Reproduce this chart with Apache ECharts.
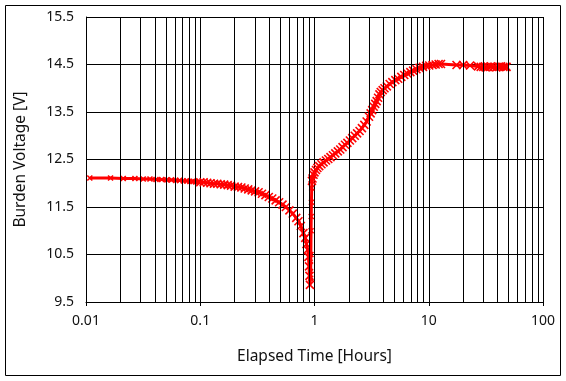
<!DOCTYPE html>
<html>
<head>
<meta charset="utf-8">
<script src="https://cdn.jsdelivr.net/npm/echarts@6/dist/echarts.min.js"></script>
<style>
html,body{margin:0;padding:0;background:#fff;}
#chart{width:566px;height:381px;}
</style>
</head>
<body>
<div id="chart"></div>
<script>
// Elapsed time [hours]
const timeHours = [
  0.0108,0.0164,0.0212,0.0268,0.0317,0.0363,0.041,0.046,0.051,0.056,0.061,0.066,0.071,0.076,0.081,0.086,0.091,0.096,
  0.100,0.107,0.115,0.123,0.132,0.141,0.151,0.162,0.174,0.186,0.200,0.214,0.229,0.245,0.263,0.282,0.302,0.324,0.347,0.372,
  0.398,0.427,0.457,0.490,0.525,0.562,0.603,0.646,0.692,0.724,0.759,0.800,0.830,0.850,0.870,0.885,0.895,0.903,0.912,
  0.925,0.930,0.933,0.936,0.940,0.945,0.950,
  0.96,0.98,1.00,1.03,1.06,1.10,1.15,1.20,1.26,1.32,1.38,1.45,1.52,1.60,1.68,1.76,1.85,1.94,2.04,2.14,2.25,2.36,2.48,2.60,
  2.73,2.86,3.00,3.10,3.20,3.30,3.40,3.50,3.60,3.70,3.80,3.95,4.10,4.30,4.55,4.80,5.10,5.40,5.75,6.10,6.50,6.90,7.30,7.80,
  8.30,8.90,9.50,10.1,10.8,11.5,12.2,12.8,
  17.5,20.0,23.0,27.0,28.5,30.0,31.5,33.0,35.0,37.0,39.0,41.0,43.0,45.0,47.0,48.0
];
// Burden voltage [V]
const burdenVoltage = [
  12.11,12.11,12.10,12.10,12.09,12.09,12.08,12.08,12.07,12.07,12.06,12.06,12.05,12.05,12.04,12.04,12.03,12.03,
  12.02,12.02,12.01,12.00,11.99,11.99,11.98,11.97,11.96,11.95,11.93,11.92,11.91,11.89,11.87,11.85,11.83,11.81,11.78,11.75,
  11.71,11.68,11.64,11.60,11.55,11.50,11.43,11.36,11.27,11.20,11.10,10.95,10.85,10.72,10.60,10.45,10.25,10.05,9.86,
  10.00,10.50,11.00,11.30,11.60,11.90,12.05,
  12.10,12.18,12.23,12.28,12.32,12.36,12.40,12.44,12.48,12.51,12.55,12.59,12.63,12.67,12.71,12.76,12.81,12.85,12.90,12.95,13.00,13.05,13.10,13.16,
  13.23,13.30,13.40,13.47,13.54,13.61,13.67,13.73,13.80,13.87,13.92,13.96,14.00,14.04,14.09,14.13,14.17,14.20,14.24,14.28,14.31,14.34,14.37,14.40,
  14.43,14.45,14.47,14.48,14.49,14.50,14.51,14.51,
  14.49,14.49,14.48,14.46,14.45,14.45,14.44,14.45,14.46,14.45,14.44,14.45,14.46,14.45,14.45,14.45
];
// Minor vertical grid lines of the log axis
const xMinorGrid = [
  0.02,0.03,0.04,0.05,0.06,0.07,0.08,0.09,
  0.2,0.3,0.4,0.5,0.6,0.7,0.8,0.9,
  2,3,4,5,6,7,8,9,
  20,30,40,50,60,70,80,90
];
const xTickLabels = ['0.01','0.1','1','10','100'];
const yMin = 9.5, yMax = 15.5, yStep = 1;

const seriesData = timeHours.map((t, i) => [t, burdenVoltage[i]]);

const chart = echarts.init(document.getElementById('chart'), null, {renderer: 'canvas'});
const FONT = 'Noto Sans';
chart.setOption({
  animation: false,
  backgroundColor: '#fff',
  graphic: [{
    type: 'rect',
    shape: {x: 5.5, y: 5.5, width: 555, height: 370},
    style: {fill: 'none', stroke: '#000', lineWidth: 1},
    silent: true, z: -1
  }],
  grid: {left: 86, right: 23, top: 17, bottom: 79, containLabel: false},
  xAxis: {
    type: 'log',
    logBase: 10,
    min: 0.01,
    max: 100,
    name: 'Elapsed Time [Hours]',
    nameLocation: 'middle',
    nameGap: 47,
    nameTextStyle: {fontFamily: FONT, fontSize: 15.5, color: '#111'},
    axisLine: {show: true, lineStyle: {color: '#000', width: 1}},
    axisTick: {show: true, length: 4, lineStyle: {color: '#000'}},
    axisLabel: {
      fontFamily: FONT, fontSize: 14, color: '#111', margin: 12,
      formatter: v => {
        const k = Math.round(Math.log10(v)) + 2;
        return xTickLabels[k] !== undefined ? xTickLabels[k] : '';
      }
    },
    splitLine: {show: true, lineStyle: {color: '#000', width: 1}},
    minorTick: {show: false},
    minorSplitLine: {show: false}
  },
  yAxis: {
    type: 'value',
    min: yMin,
    max: yMax,
    interval: yStep,
    name: 'Burden Voltage [V]',
    nameLocation: 'middle',
    nameGap: 57,
    nameTextStyle: {fontFamily: FONT, fontSize: 15.5, color: '#111'},
    axisLine: {show: true, lineStyle: {color: '#000', width: 1}},
    axisTick: {show: false},
    axisLabel: {fontFamily: FONT, fontSize: 14, color: '#111', margin: 12,
      formatter: v => v.toFixed(1)},
    splitLine: {show: true, lineStyle: {color: '#000', width: 1}}
  },
  series: [
    {
      type: 'line',
      data: [],
      z: 1,
      silent: true,
      markLine: {
        silent: true,
        symbol: 'none',
        animation: false,
        label: {show: false},
        emphasis: {disabled: true},
        lineStyle: {color: '#000', width: 1, type: 'solid'},
        data: xMinorGrid.map(v => ({xAxis: v}))
      }
    },
    {
      type: 'line',
      data: seriesData,
      z: 3,
      smooth: false,
      showSymbol: true,
      showAllSymbol: true,
      symbol: 'path://M0,0L10,10M10,0L0,10',
      symbolSize: v => (v[0] < 0.1 || (v[0] > 0.915 && v[0] < 0.948)) ? 5 : 8,
      lineStyle: {color: '#ff0000', width: 3},
      itemStyle: {color: '#ff0000', borderColor: '#ff0000', borderWidth: 1.6},
      emphasis: {disabled: true}
    }
  ]
});
</script>
</body>
</html>
